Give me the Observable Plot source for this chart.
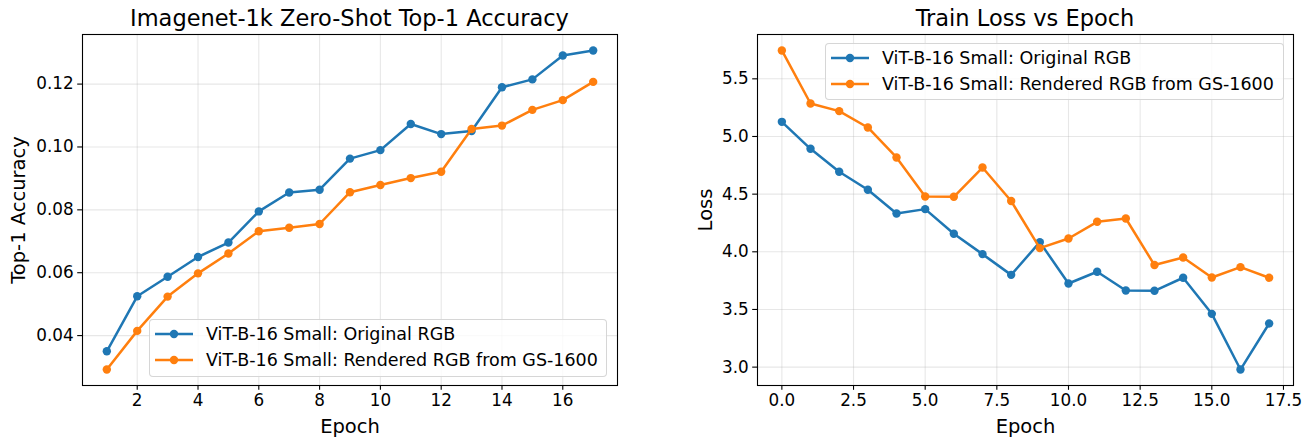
<!DOCTYPE html>
<html>
<head>
<meta charset="utf-8">
<script src="https://cdn.jsdelivr.net/npm/d3@7"></script>
<script src="https://cdn.jsdelivr.net/npm/@observablehq/plot@0.6"></script>
<style>
  html, body { margin: 0; padding: 0; background: #fff; }
  #root { position: relative; width: 1312px; height: 440px; font-family: "DejaVu Sans", sans-serif; color: #000; }
  .panel { position: absolute; top: 0; width: 656px; height: 440px; }
  .title { position: absolute; font-size: 22.5px; line-height: 22px; text-align: center; white-space: nowrap; }
  .legend { position: absolute; box-sizing: border-box; background: rgba(255,255,255,0.8); border: 1px solid rgba(204,204,204,0.8); border-radius: 4px; }
  .legend .row { position: absolute; left: 0; height: 20px; display: flex; align-items: center; font-size: 17.5px; white-space: nowrap; }
  .legend svg { display: block; margin-left: 5px; margin-right: 13px; }
  svg [aria-label="x-axis label"], svg [aria-label="y-axis label"] { font-size: 19.5px; }
</style>
</head>
<body>
<div id="root"></div>
<script>
// ---------------- data ----------------
const seriesNames = ["ViT-B-16 Small: Original RGB", "ViT-B-16 Small: Rendered RGB from GS-1600"];
const seriesColors = ["#1f77b4", "#ff7f0e"];

const accEpochs = [1, 2, 3, 4, 5, 6, 7, 8, 9, 10, 11, 12, 13, 14, 15, 16, 17];
const accOriginal = [0.0350, 0.0525, 0.0587, 0.0650, 0.0696, 0.0795, 0.0855, 0.0864, 0.0963, 0.0990, 0.1073, 0.1041, 0.1051, 0.1190, 0.1215, 0.1291, 0.1307];
const accRendered = [0.0292, 0.0415, 0.0524, 0.0598, 0.0661, 0.0732, 0.0743, 0.0755, 0.0856, 0.0879, 0.0901, 0.0921, 0.1057, 0.1068, 0.1118, 0.1149, 0.1207];

const lossEpochs = [0, 1, 2, 3, 4, 5, 6, 7, 8, 9, 10, 11, 12, 13, 14, 15, 16, 17];
const lossOriginal = [5.127, 4.893, 4.694, 4.538, 4.332, 4.370, 4.156, 3.980, 3.800, 4.084, 3.725, 3.827, 3.664, 3.662, 3.775, 3.462, 2.979, 3.378];
const lossRendered = [5.746, 5.286, 5.220, 5.078, 4.818, 4.480, 4.477, 4.731, 4.440, 4.032, 4.115, 4.260, 4.289, 3.885, 3.951, 3.777, 3.867, 3.775];

const accXTicks = [2, 4, 6, 8, 10, 12, 14, 16];
const accYTicks = [0.04, 0.06, 0.08, 0.10, 0.12];
const lossXTicks = [0.0, 2.5, 5.0, 7.5, 10.0, 12.5, 15.0, 17.5];
const lossYTicks = [3.0, 3.5, 4.0, 4.5, 5.0, 5.5];

const titles = ["Imagenet-1k Zero-Shot Top-1 Accuracy", "Train Loss vs Epoch"];
const xLabel = "Epoch";
const yLabels = ["Top-1 Accuracy", "Loss"];

// ---------------- helpers ----------------
function padded(values) {
  const [lo, hi] = d3.extent(values);
  const m = (hi - lo) * 0.05;
  return [lo - m, hi + m];
}

function makeChart(cfg) {
  const rows = [];
  cfg.series.forEach((vals, s) => cfg.epochs.forEach((e, i) => rows.push({epoch: e, value: vals[i], series: seriesNames[s]})));
  const marks = [
    Plot.gridX(cfg.xTicks, {stroke: "#b0b0b0", strokeOpacity: 0.3, strokeWidth: 1.1}),
    Plot.gridY(cfg.yTicks, {stroke: "#b0b0b0", strokeOpacity: 0.3, strokeWidth: 1.1}),
    Plot.axisX(cfg.xTicks, {tickSize: 4.8, tickPadding: 4, tickFormat: cfg.xFmt, fontSize: 16.8, strokeWidth: 1.1,
      label: xLabel, labelAnchor: "center", labelArrow: "none", labelOffset: 47}),
    Plot.axisY(cfg.yTicks, {tickSize: 4.8, tickPadding: 4, tickFormat: cfg.yFmt, fontSize: 16.8, strokeWidth: 1.1,
      label: cfg.yLabel, labelAnchor: "center", labelArrow: "none", labelOffset: cfg.yLabelOffset})
  ];
  seriesNames.forEach(name => {
    const d = rows.filter(r => r.series === name);
    marks.push(Plot.line(d, {x: "epoch", y: "value", stroke: "series", strokeWidth: 2.5}));
    marks.push(Plot.dot(d, {x: "epoch", y: "value", fill: "series", r: 4.2}));
  });
  marks.push(Plot.frame({stroke: "#000", strokeWidth: 1.1}));
  return Plot.plot({
    width: 656, height: 440,
    marginLeft: cfg.marginLeft, marginRight: cfg.marginRight, marginTop: 34, marginBottom: 55,
    style: {fontFamily: "DejaVu Sans", fontSize: "16.8px", color: "#000", background: "transparent"},
    x: {domain: padded(cfg.epochs)},
    y: {domain: padded(cfg.series.flat())},
    color: {domain: seriesNames, range: seriesColors},
    marks
  });
}

function addTitle(parent, text, left, width) {
  const t = document.createElement("div");
  t.className = "title";
  t.textContent = text;
  Object.assign(t.style, {left: left + "px", width: width + "px", top: "7px"});
  parent.appendChild(t);
}

function addLegend(parent, left, top, width, height) {
  const box = document.createElement("div");
  box.className = "legend";
  Object.assign(box.style, {left: left + "px", top: top + "px", width: width + "px", height: height + "px"});
  seriesNames.forEach((name, i) => {
    const row = document.createElement("div");
    row.className = "row";
    row.style.top = (4 + i * 26) + "px";
    const svg = d3.create("svg").attr("width", 38).attr("height", 20);
    svg.append("line").attr("x1", 0).attr("x2", 38).attr("y1", 10).attr("y2", 10)
      .attr("stroke", seriesColors[i]).attr("stroke-width", 2.5);
    svg.append("circle").attr("cx", 19).attr("cy", 10).attr("r", 4.2).attr("fill", seriesColors[i]);
    row.appendChild(svg.node());
    const span = document.createElement("span");
    span.textContent = name;
    row.appendChild(span);
    box.appendChild(row);
  });
  parent.appendChild(box);
}

// ---------------- build ----------------
const root = document.getElementById("root");

const left = document.createElement("div");
left.className = "panel"; left.style.left = "0px";
left.appendChild(makeChart({
  epochs: accEpochs, series: [accOriginal, accRendered],
  xTicks: accXTicks, yTicks: accYTicks,
  xFmt: d3.format("d"), yFmt: d3.format(".2f"),
  marginLeft: 82, marginRight: 39, yLabel: yLabels[0], yLabelOffset: 71
}));
root.appendChild(left);

const right = document.createElement("div");
right.className = "panel"; right.style.left = "656px";
right.appendChild(makeChart({
  epochs: lossEpochs, series: [lossOriginal, lossRendered],
  xTicks: lossXTicks, yTicks: lossYTicks,
  xFmt: d3.format(".1f"), yFmt: d3.format(".1f"),
  marginLeft: 101, marginRight: 19, yLabel: yLabels[1], yLabelOffset: 59
}));
root.appendChild(right);

addTitle(root, titles[0], 82, 535);
addTitle(root, titles[1], 757, 536);
addLegend(root, 149, 319, 458, 58);
addLegend(root, 825, 43, 459, 57);
</script>
</body>
</html>
